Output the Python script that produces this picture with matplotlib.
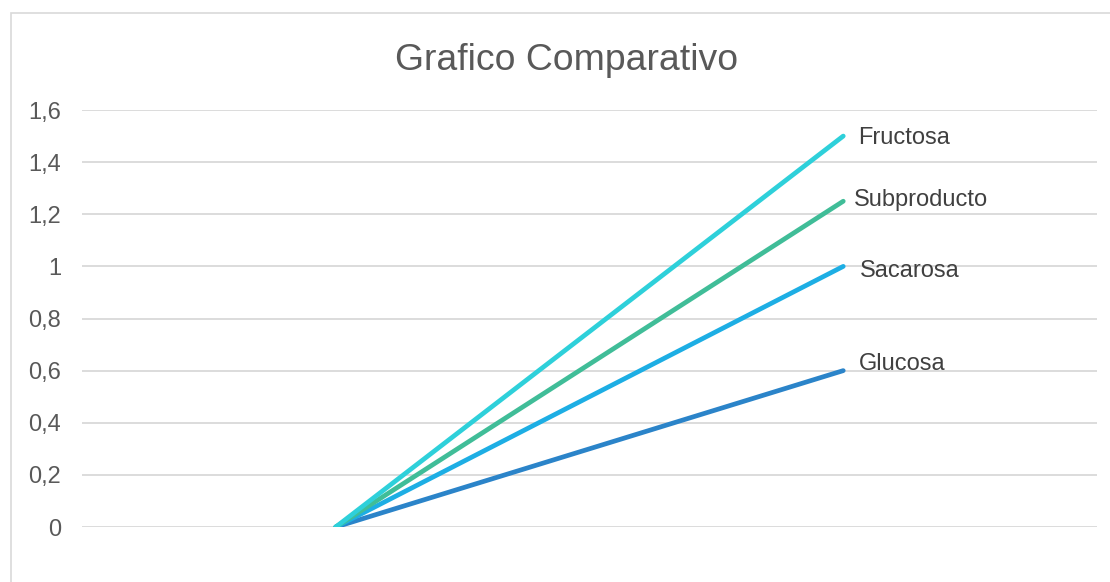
import matplotlib.pyplot as plt
from matplotlib.patches import Rectangle
from matplotlib.ticker import FuncFormatter

# Datos del grafico
categorias = [0, 1]
glucosa = [0, 0.6]
sacarosa = [0, 1.0]
subproducto = [0, 1.25]
fructosa = [0, 1.5]

series = [
    ('Glucosa', glucosa, '#2B84C9', (11, 5)),
    ('Sacarosa', sacarosa, '#1DAEE4', (12, -3)),
    ('Subproducto', subproducto, '#40BD98', (8, 0.7)),
    ('Fructosa', fructosa, '#2ED0DA', (11, -1.5)),
]

plt.rcParams['font.family'] = ['Liberation Sans', 'DejaVu Sans']

fig = plt.figure(figsize=(11.1, 5.82), dpi=100)
ax = fig.add_axes([82 / 1110, 1 - 527 / 582, (1097 - 82) / 1110, (527 - 110) / 582])

# marco exterior del grafico
fig.patches.append(Rectangle((11 / 1110, -0.1), 1.2, 1 - 13 / 582 + 0.1,
                             transform=fig.transFigure, fill=False,
                             edgecolor='#D9D9D9', linewidth=1.2))

for nombre, valores, color, off in series:
    ax.plot([c + 0.5 for c in categorias], valores, color=color, linewidth=3.4,
            solid_capstyle='round', zorder=3)
    ax.annotate(nombre, (categorias[-1] + 0.5, valores[-1]), xytext=off,
                textcoords='offset points', va='center', ha='left',
                fontsize=17, color='#404040')

ax.set_xlim(0, 2)
ax.set_ylim(0, 1.6)
ax.set_yticks([0, 0.2, 0.4, 0.6, 0.8, 1, 1.2, 1.4, 1.6])
ax.yaxis.set_major_formatter(FuncFormatter(lambda v, p: ('%g' % round(v, 1)).replace('.', ',')))
ax.set_xticks([])
ax.grid(axis='y', color='#D9D9D9', linewidth=1.3)
ax.set_axisbelow(True)
for s in ax.spines.values():
    s.set_visible(False)
ax.tick_params(axis='y', length=0, pad=15, labelsize=17, labelcolor='#595959')

fig.text(567 / 1110, 1 - 60 / 582, 'Grafico Comparativo', ha='center', va='center',
         fontsize=26.9, color='#595959')

plt.savefig('out.png', dpi=100)
